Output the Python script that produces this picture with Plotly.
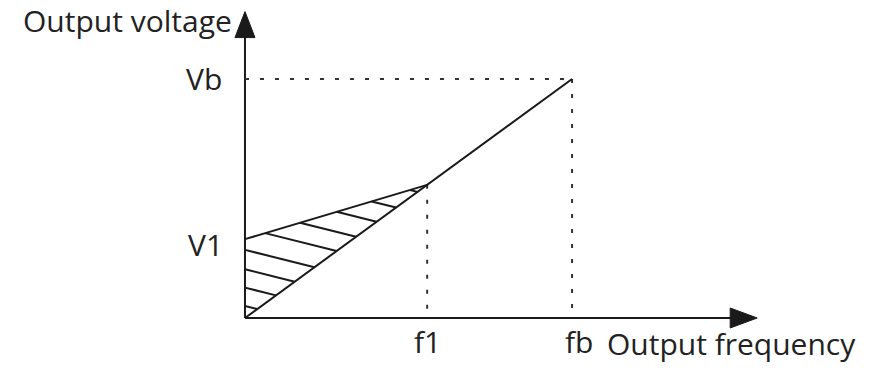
import plotly.graph_objects as go

# V/f curve, abstract units (fb and Vb both = 10)
fb = 10.0
Vb = 10.0
f1 = 5.57
V1 = 3.3
x_axis_end = 15.66
y_axis_end = 12.82

# hatching: intercepts on the voltage axis and slope
hatch_y0 = [0.5, 1.27, 2.04, 2.85, 3.76, 4.56, 5.40, 6.2, 7.08]
hatch_slope = -0.342

V_f1 = Vb * f1 / fb
k_up = (V_f1 - V1) / f1
k_lo = Vb / fb

ink = "#1a1a1a"
fig = go.Figure()

# axes
fig.add_trace(go.Scatter(x=[0, x_axis_end - 0.6], y=[0, 0], mode="lines",
                         line=dict(color=ink, width=2), hoverinfo="skip"))
fig.add_trace(go.Scatter(x=[0, 0], y=[0, y_axis_end - 0.8], mode="lines",
                         line=dict(color=ink, width=2), hoverinfo="skip"))

# dotted guides
dots = dict(color="#333333", width=2, dash="4px,11px")
fig.add_trace(go.Scatter(x=[0, fb], y=[Vb, Vb], mode="lines", line=dots, hoverinfo="skip"))
fig.add_trace(go.Scatter(x=[fb, fb], y=[Vb, 0], mode="lines", line=dots, hoverinfo="skip"))
fig.add_trace(go.Scatter(x=[f1, f1], y=[V_f1, 0], mode="lines", line=dots, hoverinfo="skip"))

# curves
fig.add_trace(go.Scatter(x=[0, fb], y=[0, Vb], mode="lines",
                         line=dict(color=ink, width=2), hoverinfo="skip"))
fig.add_trace(go.Scatter(x=[0, f1], y=[V1, V_f1], mode="lines",
                         line=dict(color=ink, width=2), hoverinfo="skip"))

# hatch lines clipped to the boost triangle
hx, hy = [], []
for c in hatch_y0:
    if c <= V1:
        xs = 0.0
    else:
        xs = (c - V1) / (k_up - hatch_slope)
    xe = c / (k_lo - hatch_slope)
    if xe <= xs:
        continue
    hx += [xs, xe, None]
    hy += [c + hatch_slope * xs, c + hatch_slope * xe, None]
fig.add_trace(go.Scatter(x=hx, y=hy, mode="lines",
                         line=dict(color=ink, width=2), hoverinfo="skip"))

# arrow heads (pixel sized, anchored at axis ends)
fig.add_shape(type="path", xref="x", yref="y", xsizemode="pixel", ysizemode="pixel",
              xanchor=0, yanchor=y_axis_end, path="M 0 0 L -10 -26 L 10 -26 Z",
              fillcolor=ink, line=dict(color=ink, width=1))
fig.add_shape(type="path", xref="x", yref="y", xsizemode="pixel", ysizemode="pixel",
              xanchor=x_axis_end, yanchor=0, path="M 0 0 L -27 10 L -27 -10 Z",
              fillcolor=ink, line=dict(color=ink, width=1))

font = dict(family="Open Sans", size=30, color="#222222")
fig.add_annotation(x=0, y=y_axis_end, text="Output voltage", showarrow=False,
                   xanchor="right", yanchor="middle", xshift=-12, yshift=-9,
                   borderpad=0, font=font)
fig.add_annotation(x=0, y=Vb, text="Vb", showarrow=False,
                   xanchor="right", yanchor="middle", xshift=-21, font=font)
fig.add_annotation(x=0, y=V1, text="V1", showarrow=False,
                   xanchor="right", yanchor="middle", xshift=-20, yshift=-5, font=font)
fig.add_annotation(x=f1, y=0, text="f1", showarrow=False,
                   xanchor="center", yanchor="middle", yshift=-24, font=font)
fig.add_annotation(x=fb, y=0, text="fb", showarrow=False,
                   xanchor="center", yanchor="middle", xshift=7, yshift=-24, font=font)
fig.add_annotation(x=fb, y=0, text="Output frequency", showarrow=False,
                   xanchor="left", yanchor="middle", xshift=34, yshift=-26,
                   borderpad=0, font=font)

fig.update_layout(width=872, height=370, margin=dict(l=0, r=0, t=0, b=0),
                  paper_bgcolor="white", plot_bgcolor="white", showlegend=False,
                  xaxis=dict(range=[-7.49, 19.17], visible=False, fixedrange=True),
                  yaxis=dict(range=[-2.176, 13.305], visible=False, fixedrange=True))

# drop the browser's default 8px body margin so the figure sits at the window corner
fig.write_html("out.html", config={"displayModeBar": False},
               post_script="document.body.style.margin='0';")
